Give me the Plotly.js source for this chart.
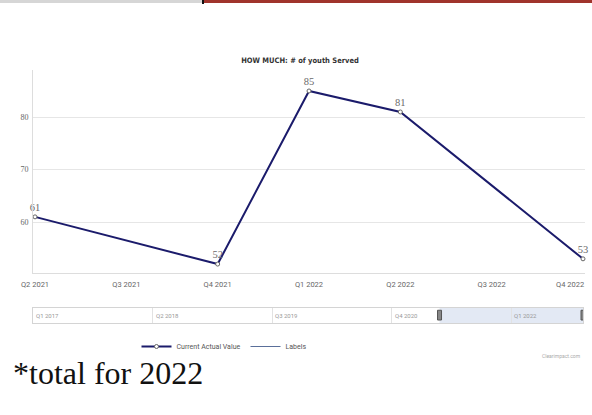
<!DOCTYPE html>
<html>
<head>
<meta charset="utf-8">
<script src="https://cdn.plot.ly/plotly-3.0.1.min.js"></script>
<style>
html,body{margin:0;padding:0;background:#fff;}
#chart{width:592px;height:415px;}
</style>
</head>
<body>
<div id="chart"></div>
<script>
// ---- data ----
var categories = ["Q2 2021","Q3 2021","Q4 2021","Q1 2022","Q2 2022","Q3 2022","Q4 2022"];
var values = [61, null, 52, 85, 81, null, 53];
var tickLabels = ["Q2 2021","Q3 2021","Q4 2021","Q1 2022","Q2 2022","Q3 2022","Q4 2022"];
var navTickVals = [0, 5, 10, 15, 20];
var navTickLabels = ["Q1 2017","Q2 2018","Q3 2019","Q4 2020","Q1 2022"];
var navRange = [0, 23];
var navSelected = [17, 23];
var seriesName = "Current Actual Value";
var labelsName = "Labels";
var chartTitle = "HOW MUCH: # of youth Served";
var footnote = "*total for 2022";
var credits = "Clearimpact.com";

// ---- layout helpers (pixel -> paper) ----
var W = 592, H = 415;
var M = {l: 33, r: 7, t: 70, b: 92};
var PW = W - M.l - M.r, PH = H - M.t - M.b;
function px2x(px){ return (px - M.l) / PW; }
function px2y(py){ return (H - M.b - py) / PH; }

var nLast = categories.length - 1;

var main = {
  x: categories, y: values, type: 'scatter', mode: 'lines+markers+text',
  name: seriesName, connectgaps: true,
  line: {color: '#1b1b6b', width: 2},
  marker: {symbol: 'circle', size: 4, color: '#ffffff', line: {color: '#666', width: 1}},
  text: values.map(function(v){ return v === null ? '' : String(v); }),
  textposition: 'top center',
  textfont: {family: 'Liberation Serif', size: 10.5, color: '#6a6a6a'},
  cliponaxis: false,
  xaxis: 'x', yaxis: 'y'
};
var labelsTrace = {
  x: categories, y: categories.map(function(){ return null; }),
  type: 'scatter', mode: 'lines', name: labelsName,
  line: {color: '#5a6f9a', width: 1.2},
  xaxis: 'x', yaxis: 'y', hoverinfo: 'skip'
};
var navTrace = {
  x: navRange, y: [null, null], type: 'scatter', mode: 'lines',
  showlegend: false, xaxis: 'x2', yaxis: 'y2', hoverinfo: 'skip'
};

var annotations = navTickVals.map(function(v, i){
  return {x: v, y: 0.5, xref: 'x2', yref: 'y2', text: navTickLabels[i], showarrow: false,
    xanchor: 'left', yanchor: 'middle', xshift: 1,
    font: {family: 'Roboto', size: 6, color: '#999'}};
});
// last category tick label, justified inside the chart like the reference
annotations.push({x: categories[nLast], y: px2y(284), xref: 'x', yref: 'paper',
  text: tickLabels[nLast], showarrow: false, xanchor: 'right', yanchor: 'middle', xshift: 3,
  font: {family: 'Roboto', size: 7.5, color: '#666'}});
annotations.push({x: px2x(583), y: px2y(356), xref: 'paper', yref: 'paper', text: credits,
  showarrow: false, xanchor: 'right', yanchor: 'middle', font: {family: 'Roboto', size: 5, color: '#aaa'}});
annotations.push({x: px2x(11), y: px2y(373), xref: 'paper', yref: 'paper', text: footnote,
  showarrow: false, xanchor: 'left', yanchor: 'middle', font: {family: 'Liberation Serif', size: 32, color: '#111'}});

var shapes = [
  {type: 'rect', xref: 'paper', yref: 'paper', x0: px2x(0), x1: px2x(202), y0: px2y(3), y1: px2y(0), fillcolor: '#d6d6d6', line: {width: 0}, layer: 'below'},
  {type: 'rect', xref: 'paper', yref: 'paper', x0: px2x(202), x1: px2x(204), y0: px2y(4), y1: px2y(0), fillcolor: '#111', line: {width: 0}, layer: 'below'},
  {type: 'rect', xref: 'paper', yref: 'paper', x0: px2x(204), x1: px2x(592), y0: px2y(3), y1: px2y(0), fillcolor: '#a0342c', line: {width: 0}, layer: 'below'},
  {type: 'rect', xref: 'x2', yref: 'y2', x0: navSelected[0], x1: navSelected[1], y0: 0, y1: 1, fillcolor: 'rgba(102,133,194,0.18)', line: {width: 0}, layer: 'below'},
  {type: 'rect', xref: 'x2', yref: 'y2', xsizemode: 'pixel', xanchor: navSelected[0], x0: -2, x1: 2, y0: 0.2, y1: 0.85, fillcolor: '#888', line: {color: '#555', width: 1}},
  {type: 'rect', xref: 'x2', yref: 'y2', xsizemode: 'pixel', xanchor: navSelected[1], x0: -2, x1: 2, y0: 0.2, y1: 0.85, fillcolor: '#888', line: {color: '#555', width: 1}}
];

var layout = {
  width: W, height: H,
  margin: M,
  paper_bgcolor: '#fff', plot_bgcolor: '#fff',
  title: {text: chartTitle, x: 300 / W, xanchor: 'center', y: 1 - 60 / H, yanchor: 'middle',
    font: {family: 'DejaVu Sans Condensed, Roboto', size: 7.5, color: '#333', weight: 'bold'}},
  showlegend: true,
  legend: {orientation: 'h', x: px2x(224), xanchor: 'center', y: px2y(332), yanchor: 'top',
    font: {family: 'Roboto', size: 7, color: '#555'}, itemwidth: 30, bgcolor: 'rgba(0,0,0,0)'},
  xaxis: {type: 'category', domain: [0, 1], anchor: 'y', range: [-0.022, 6.022],
    tickvals: categories.slice(0, nLast), ticktext: tickLabels.slice(0, nLast), ticks: '', showgrid: false,
    showline: true, linecolor: '#ddd', linewidth: 1, zeroline: false, ticklabelstandoff: 4,
    tickfont: {family: 'Roboto', size: 7.5, color: '#666'}, fixedrange: true, automargin: false},
  yaxis: {domain: [px2y(273), 1], anchor: 'x', range: [50.3, 89], tickvals: [60, 70, 80],
    showgrid: true, gridcolor: '#e6e6e6', gridwidth: 1, showline: true, linecolor: '#ddd', linewidth: 1,
    zeroline: false, ticks: '', ticklabelstandoff: 2,
    tickfont: {family: 'Liberation Serif', size: 8, color: '#666'}, fixedrange: true, automargin: false},
  xaxis2: {domain: [0, px2x(583)], anchor: 'y2', range: navRange, tickvals: navTickVals,
    showticklabels: false, ticks: '', showgrid: true, gridcolor: '#e2e2e2', showline: true, mirror: true,
    linecolor: '#d4d4d4', zeroline: false, fixedrange: true},
  yaxis2: {domain: [0, px2y(308)], anchor: 'x2', range: [0, 1], showticklabels: false, ticks: '',
    showgrid: false, showline: true, mirror: true, linecolor: '#d4d4d4', zeroline: false, fixedrange: true},
  annotations: annotations,
  shapes: shapes
};

Plotly.newPlot('chart', [main, labelsTrace, navTrace], layout, {displayModeBar: false, staticPlot: true});
</script>
</body>
</html>
